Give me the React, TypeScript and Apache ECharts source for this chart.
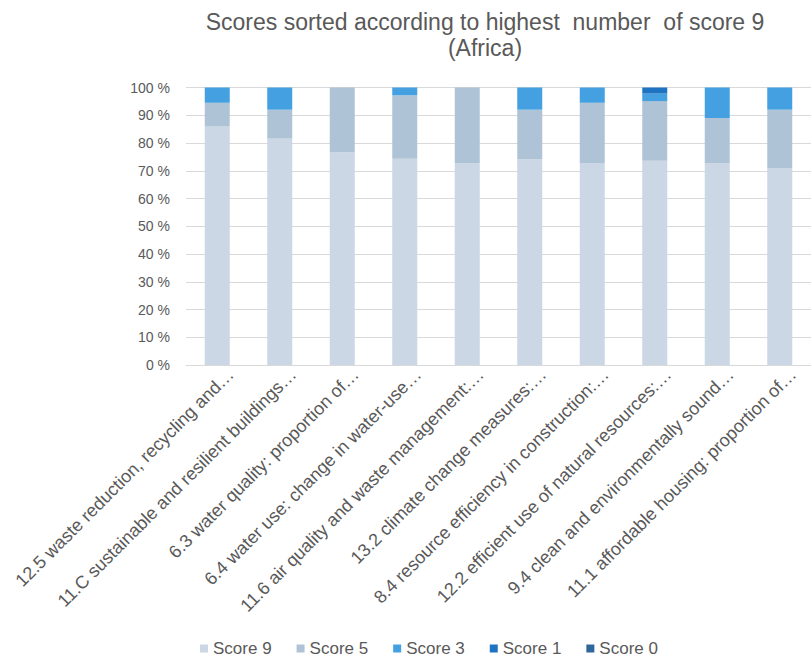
import React, { useEffect, useRef } from "react";
import * as echarts from "echarts";

const categories = [
  "12.5 waste reduction, recycling and…",
  "11.C sustainable and resilient buildings…",
  "6.3 water quality: proportion of…",
  "6.4 water use: change in water-use…",
  "11.6 air quality and waste management:…",
  "13.2 climate change measures:…",
  "8.4 resource efficiency in construction:…",
  "12.2 efficient use of natural resources:…",
  "9.4 clean and environmentally sound…",
  "11.1 affordable housing: proportion of…",
];

const score9 = [86.1, 81.6, 76.7, 74.3, 72.8, 74.1, 72.8, 73.6, 72.8, 71.0];
const score5 = [8.4, 10.4, 23.3, 22.9, 27.2, 17.9, 21.7, 21.5, 16.2, 21.0];
const score3 = [5.5, 8.0, 0, 2.8, 0, 8.0, 5.5, 2.7, 11.0, 8.0];
const score1 = [0, 0, 0, 0, 0, 0, 0, 2.2, 0, 0];
const score0 = [0, 0, 0, 0, 0, 0, 0, 0, 0, 0];

const seriesNames = ["Score 9", "Score 5", "Score 3", "Score 1", "Score 0"];
const seriesData = [score9, score5, score3, score1, score0];
const seriesColors = ["#cbd7e4", "#afc3d6", "#44a0e0", "#1f74c2", "#2f669c"];

const yTicks = [0, 10, 20, 30, 40, 50, 60, 70, 80, 90, 100];

export default function App() {
  const ref = useRef<HTMLDivElement>(null);
  useEffect(() => {
    if (!ref.current) return;
    const chart = echarts.init(ref.current, null, { renderer: "svg" });
    const font = "Liberation Sans, Arial, sans-serif";
    chart.setOption({
      animation: false,
      textStyle: { fontFamily: font },
      title: {
        text: "Scores sorted according to highest  number  of score 9\n(Africa)",
        left: 480,
        top: 4,
        textAlign: "center",
        textStyle: {
          fontFamily: font,
          fontSize: 23,
          fontWeight: "normal",
          color: "#595959",
          lineHeight: 26,
        },
      },
      legend: {
        top: 635,
        left: 195,
        itemWidth: 8,
        itemHeight: 8,
        itemGap: 25,
        icon: "rect",
        textStyle: { fontFamily: font, fontSize: 17, color: "#595959" },
        data: seriesNames,
      },
      grid: {
        left: 186,
        top: 87.5,
        width: 631,
        height: 277.5,
        containLabel: false,
      },
      xAxis: {
        type: "category",
        data: categories,
        axisTick: { show: false },
        axisLine: { lineStyle: { color: "#d9d9d9" } },
        axisLabel: {
          rotate: 45,
          interval: 0,
          fontFamily: font,
          fontSize: 18,
          color: "#595959",
          margin: -7,
          verticalAlign: "top",
          padding: [10, 0, 0, 0],
        },
      },
      yAxis: {
        type: "value",
        min: 0,
        max: 100,
        interval: 10,
        axisLine: { show: false },
        axisTick: { show: false },
        splitLine: { lineStyle: { color: "#d9d9d9" } },
        axisLabel: {
          fontFamily: font,
          fontSize: 14,
          color: "#595959",
          margin: 16,
          formatter: (v: number) => (yTicks.includes(v) ? `${v} %` : ""),
        },
      },
      series: seriesNames.map((name, i) => ({
        name,
        type: "bar",
        stack: "total",
        barWidth: 25,
        data: seriesData[i],
        itemStyle: { color: seriesColors[i] },
      })),
    });
    return () => chart.dispose();
  }, []);
  return (
    <div
      ref={ref}
      style={{ position: "absolute", left: 0, top: 0, width: 811, height: 662, background: "#fff" }}
    />
  );
}
